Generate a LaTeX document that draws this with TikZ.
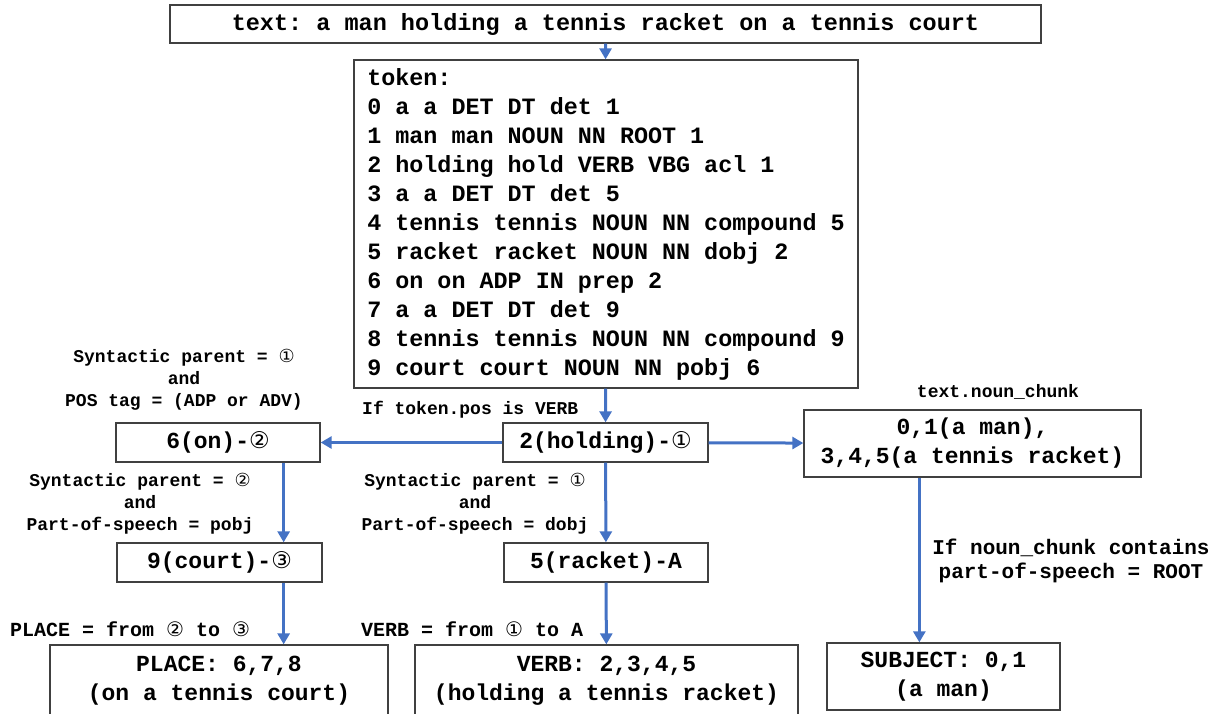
\documentclass[tikz,border=0pt]{standalone}
\usepackage{fontspec}
\setmonofont{Liberation Mono}
\newfontfamily\circfont{DejaVu Sans}
\usetikzlibrary{arrows.meta}
\definecolor{arrblue}{RGB}{68,114,196}
\newcommand{\cn}[1]{{\circfont\mdseries #1}}
\newcommand{\fs}[2]{\ttfamily\bfseries\fontsize{#1}{#2}\selectfont}

\begin{document}
\begin{tikzpicture}[x=1pt,y=-1pt,
box/.style={draw=black!75,line width=1.3pt,inner sep=0pt,align=center,font=\fs{23}{29}},
lbl/.style={inner sep=0pt,align=center,font=\fs{18}{22}},
arr/.style={draw=arrblue,line width=3pt,-{Triangle[length=11pt,width=12pt]}}]
\useasboundingbox (0,0) rectangle (1221,713);
% boxes
\node[box,minimum width=871,minimum height=38,font=\fs{23.5}{29}] (text) at (605.5,24)
  {text: a man holding a tennis racket on a tennis court};
\node[box,minimum width=504,minimum height=328,align=left,font=\fs{23.4}{29}] (token) at (606,224)
  {token:\\0 a a DET DT det 1\\1 man man NOUN NN ROOT 1\\2 holding hold VERB VBG acl 1\\
   3 a a DET DT det 5\\4 tennis tennis NOUN NN compound 5\\5 racket racket NOUN NN dobj 2\\
   6 on on ADP IN prep 2\\7 a a DET DT det 9\\8 tennis tennis NOUN NN compound 9\\
   9 court court NOUN NN pobj 6};
\node[box,minimum width=205,minimum height=39] (hold) at (605.5,442.5) {2(holding)-\cn{①}};
\node[box,minimum width=204,minimum height=39] (on) at (218,442.5) {6(on)-\cn{②}};
\node[box,minimum width=337,minimum height=67] (chunk) at (972.5,443.5) {0,1(a man),\\3,4,5(a tennis racket)};
\node[box,minimum width=205,minimum height=39] (court) at (219.5,562.5) {9(court)-\cn{③}};
\node[box,minimum width=204,minimum height=39] (racket) at (606,562.5) {5(racket)-A};
\node[box,minimum width=338,minimum height=72] (place) at (219,681) {PLACE: 6,7,8\\(on a tennis court)};
\node[box,minimum width=383,minimum height=72] (verb) at (606.5,681) {VERB: 2,3,4,5\\(holding a tennis racket)};
\node[box,minimum width=233,minimum height=67] (subj) at (943.5,676.5) {SUBJECT: 0,1\\(a man)};
% labels
\node[lbl] (l1) at (184,380) {Syntactic parent = \cn{①}\\and\\POS tag = (ADP or ADV)};
\node[lbl,anchor=west] (l2) at (362,410) {If token.pos is VERB};
\node[lbl] (l3) at (998,392) {text.noun\_chunk};
\node[lbl] (l4) at (140,504) {Syntactic parent = \cn{②}\\and\\Part-of-speech = pobj};
\node[lbl] (l5) at (475,504) {Syntactic parent = \cn{①}\\and\\Part-of-speech = dobj};
\node[lbl,font=\fs{21}{24}] (l6) at (1071,561) {If noun\_chunk contains\\part-of-speech = ROOT};
\node[lbl,anchor=west,font=\fs{20}{24}] (l7) at (10,629) {PLACE = from \cn{②} to \cn{③}};
\node[lbl,anchor=west,font=\fs{20}{24}] (l8) at (361,629) {VERB = from \cn{①} to A};
% arrows
\coordinate (c1) at ([xshift=-37pt]on.south east);
\coordinate (c2) at (c1 |- court.south);
\coordinate (c3) at ([xshift=116pt]chunk.south west);
\draw[arr] (text) -- (token);
\draw[arr] (token) -- (hold);
\draw[arr] (hold) -- (on);
\draw[arr] (hold) -- (chunk);
\draw[arr] (hold) -- (racket);
\draw[arr] (c1) -- (c1 |- court.north);
\draw[arr] (c2) -- (c2 |- place.north);
\draw[arr] (racket) -- (verb);
\draw[arr] (c3) -- (c3 |- subj.north);
\end{tikzpicture}
\end{document}
